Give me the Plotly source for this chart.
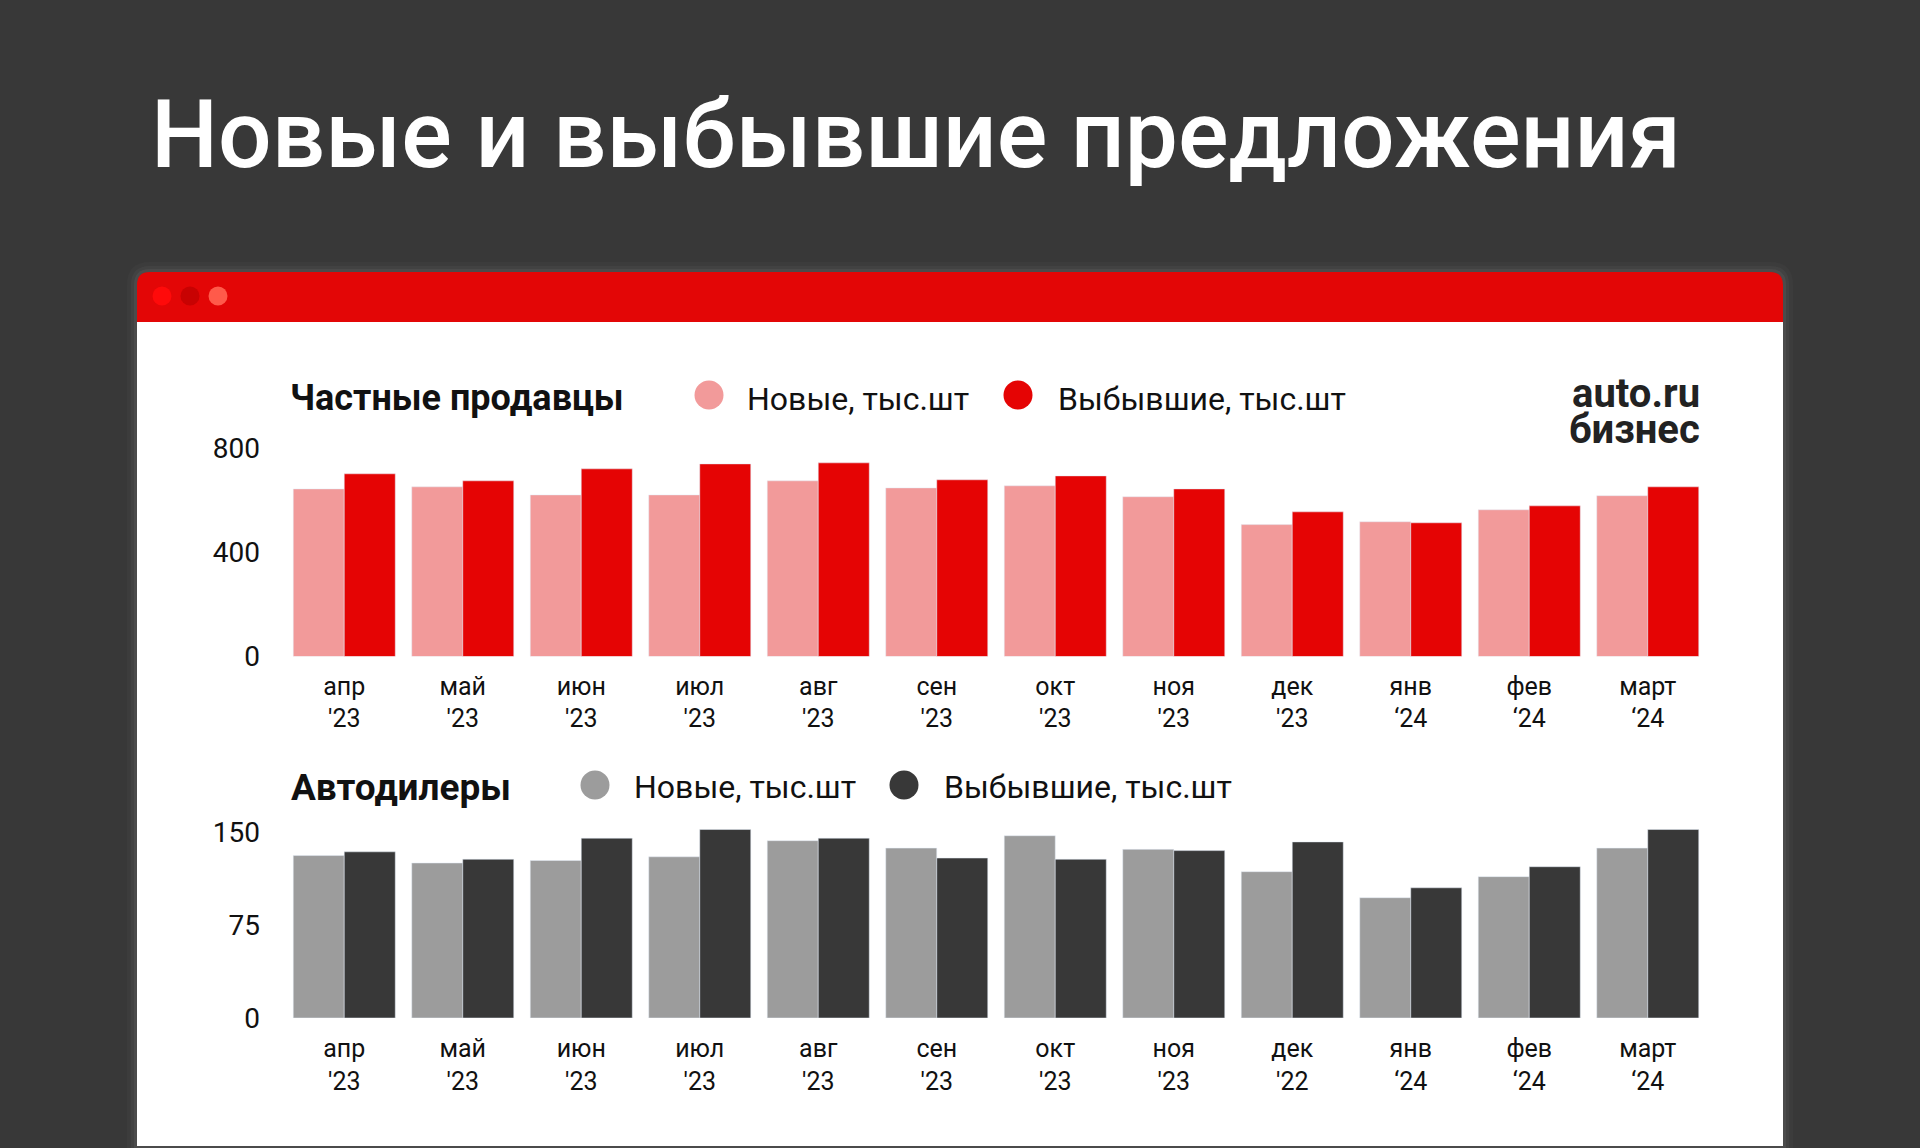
import plotly.graph_objects as go

W, H = 1920, 1148

# data
months = ['апр', 'май', 'июн', 'июл', 'авг', 'сен', 'окт', 'ноя', 'дек', 'янв', 'фев', 'март']
years_private = ["'23"] * 9 + ["‘24"] * 3
years_dealers = ["'23"] * 8 + ["'22"] + ["‘24"] * 3

private_new = [643, 651, 620, 620, 674, 647, 655, 613, 506, 517, 563, 617]
private_gone = [701, 674, 720, 739, 743, 678, 693, 643, 555, 513, 578, 651]

dealers_new = [131, 125, 127, 130, 143, 137, 147, 136, 118, 97, 114, 137]
dealers_gone = [134, 128, 145, 152, 145, 129, 128, 135, 142, 105, 122, 152]

private_ticks = [0, 400, 800]
dealers_ticks = [0, 75, 150]

BG = '#383838'
RED = '#e50404'
PINK = '#f29a9a'
GREY = '#9c9c9c'
DARK = '#383838'
FONT = 'Roboto'


def px(x):
    return x / W


def py(y):
    return 1 - y / H


def rounded_top(x0, y0, x1, y1, r):
    # path for a rect with rounded top corners, pixel coords in, paper coords out
    pts = [
        f"M {px(x0)},{py(y1)}",
        f"L {px(x0)},{py(y0 + r)}",
        f"Q {px(x0)},{py(y0)} {px(x0 + r)},{py(y0)}",
        f"L {px(x1 - r)},{py(y0)}",
        f"Q {px(x1)},{py(y0)} {px(x1)},{py(y0 + r)}",
        f"L {px(x1)},{py(y1)}",
        "Z",
    ]
    return ' '.join(pts)


cats = list(range(len(months)))
fig = go.Figure()

fig.add_trace(go.Bar(x=cats, y=private_new, marker_color=PINK, name='Новые, тыс.шт',
                     xaxis='x', yaxis='y', showlegend=False))
fig.add_trace(go.Bar(x=cats, y=private_gone, marker_color=RED, name='Выбывшие, тыс.шт',
                     xaxis='x', yaxis='y', showlegend=False))
fig.add_trace(go.Bar(x=cats, y=dealers_new, marker_color=GREY, name='Новые, тыс.шт',
                     xaxis='x2', yaxis='y2', showlegend=False))
fig.add_trace(go.Bar(x=cats, y=dealers_gone, marker_color=DARK, name='Выбывшие, тыс.шт',
                     xaxis='x2', yaxis='y2', showlegend=False))

plot_x = [px(285), px(1707)]
tick_font = dict(family=FONT, size=28, color='#111111')
xtick_font = dict(family=FONT, size=25, color='#111111')
common = dict(showgrid=False, zeroline=False, showline=False, ticks='', automargin=False,
              fixedrange=True)

fig.update_layout(
    width=W, height=H,
    margin=dict(l=0, r=0, t=0, b=0, pad=0, autoexpand=False),
    paper_bgcolor=BG,
    plot_bgcolor='rgba(0,0,0,0)',
    barmode='group',
    bargap=0.139,
    bargroupgap=0,
    xaxis=dict(domain=plot_x, anchor='y', range=[-0.5, 11.5],
               tickvals=cats, ticktext=[f"{m}<br>{y}" for m, y in zip(months, years_private)],
               tickfont=xtick_font, ticklabelstandoff=12, **common),
    yaxis=dict(domain=[py(656.5), py(448)], anchor='x', range=[0, 800],
               tickvals=private_ticks, tickfont=tick_font, ticklabelstandoff=24, **common),
    xaxis2=dict(domain=plot_x, anchor='y2', range=[-0.5, 11.5],
                tickvals=cats, ticktext=[f"{m}<br>{y}" for m, y in zip(months, years_dealers)],
                tickfont=xtick_font, ticklabelstandoff=13, **common),
    yaxis2=dict(domain=[py(1018), py(1018 - 160 * 1.24)], anchor='x2', range=[0, 160],
                tickvals=dealers_ticks, tickfont=tick_font, ticklabelstandoff=24, **common),
)

shapes = []
# soft halo round the card
for i, a in [(10, 0.025), (6, 0.035), (3, 0.05)]:
    shapes.append(dict(type='path', xref='paper', yref='paper', layer='below',
                       path=rounded_top(137 - i, 272 - i, 1783 + i, 1148, 13 + i),
                       fillcolor=f'rgba(255,255,255,{a})', line_width=0))
# card body and red header
shapes.append(dict(type='rect', xref='paper', yref='paper', layer='below',
                   x0=px(137), x1=px(1783), y0=py(1146), y1=py(315),
                   fillcolor='white', line_width=0))
shapes.append(dict(type='path', xref='paper', yref='paper', layer='below',
                   path=rounded_top(137, 272, 1783, 322, 13),
                   fillcolor='#e30606', line_width=0))
# window dots
for cx, col in [(162, '#ff0a0a'), (190, '#c80202'), (218, '#ff5a4a')]:
    shapes.append(dict(type='circle', xref='paper', yref='paper', layer='below',
                       x0=px(cx - 9.5), x1=px(cx + 9.5), y0=py(296 + 9.5), y1=py(296 - 9.5),
                       fillcolor=col, line_width=0))

# legend markers
legend_items = [
    (709, 395, PINK, 747, 'Новые, тыс.шт', 3.5),
    (1018, 395, RED, 1058, 'Выбывшие, тыс.шт', 3.5),
    (595, 785, GREY, 634, 'Новые, тыс.шт', 2),
    (904, 785, DARK, 944, 'Выбывшие, тыс.шт', 2),
]
annotations = []
for cx, cy, col, tx, label, dy in legend_items:
    shapes.append(dict(type='circle', xref='paper', yref='paper',
                       x0=px(cx - 14.5), x1=px(cx + 14.5), y0=py(cy + 14.5), y1=py(cy - 14.5),
                       fillcolor=col, line_width=0))
    annotations.append(dict(xref='paper', yref='paper', x=px(tx - 2), y=py(cy + dy),
                            xanchor='left', yanchor='middle', showarrow=False, text=label,
                            font=dict(family=FONT, size=32, color='#111111')))

# titles
annotations.append(dict(xref='paper', yref='paper', x=px(149), y=py(134),
                        xanchor='left', yanchor='middle', showarrow=False,
                        text='Новые и выбывшие предложения',
                        font=dict(family=FONT, size=94.5, color='white', weight=500)))
annotations.append(dict(xref='paper', yref='paper', x=px(288), y=py(398),
                        xanchor='left', yanchor='middle', showarrow=False,
                        text='Частные продавцы',
                        font=dict(family=FONT, size=36, color='#111111', weight='bold')))
annotations.append(dict(xref='paper', yref='paper', x=px(289), y=py(787),
                        xanchor='left', yanchor='middle', showarrow=False,
                        text='Автодилеры',
                        font=dict(family=FONT, size=37, color='#111111', weight='bold')))
# logo
annotations.append(dict(xref='paper', yref='paper', x=px(1702), y=py(393),
                        xanchor='right', yanchor='middle', showarrow=False, text='auto.ru',
                        font=dict(family=FONT, size=40, color='#222222', weight='bold')))
annotations.append(dict(xref='paper', yref='paper', x=px(1702), y=py(429),
                        xanchor='right', yanchor='middle', showarrow=False, text='бизнес',
                        font=dict(family=FONT, size=40, color='#222222', weight='bold')))

fig.update_layout(shapes=shapes, annotations=annotations)

fig.write_html("out.html", config={'displayModeBar': False},
               post_script="document.body.style.margin='0';document.body.style.overflow='hidden';")
